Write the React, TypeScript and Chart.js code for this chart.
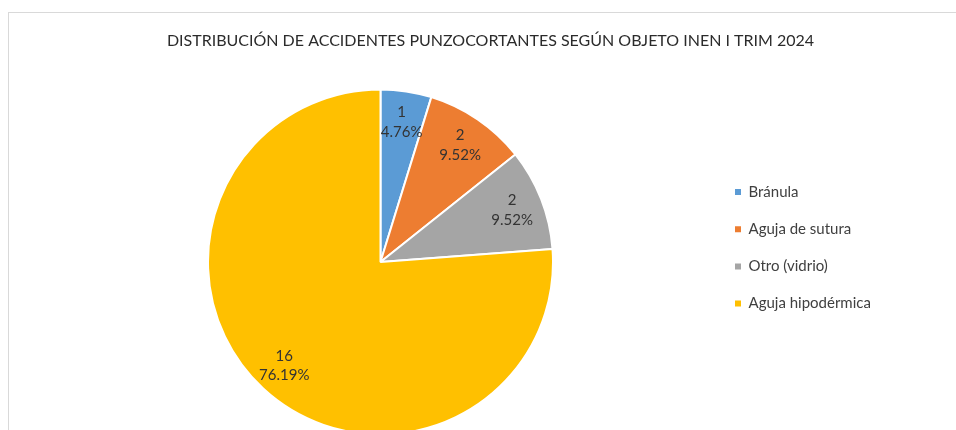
import { useEffect, useRef } from 'react';
import { Chart, registerables } from 'chart.js';

Chart.register(...registerables);

const TITLE = 'DISTRIBUCIÓN DE ACCIDENTES PUNZOCORTANTES SEGÚN OBJETO INEN I TRIM 2024';
const CATEGORIES = ['Bránula', 'Aguja de sutura', 'Otro (vidrio)', 'Aguja hipodérmica'];
const COUNTS = [1, 2, 2, 16];
const COLORS = ['#5B9BD5', '#ED7D31', '#A5A5A5', '#FFC000'];

const W = 956;
const H = 430;
const FONT = 'Lato';
const LEGEND_SIZE = 15;
const LEGEND_PAD = 22.2;
const LEGEND_BOX = 6;
const LEGEND_BOX_X = 735;
const PIE_CX = 380.5;
const PIE_CY = 262;
const PIE_R = 172.5;
const LEGEND_FIRST_ROW = 192;

const titlePlugin = {
  id: 'fixedTitle',
  afterDraw(chart: any) {
    const ctx = chart.ctx;
    ctx.save();
    ctx.font = `16px ${FONT}`;
    ctx.fillStyle = '#2b2b2b';
    ctx.textAlign = 'center';
    ctx.textBaseline = 'alphabetic';
    ctx.fillText(TITLE, 490.5, 46);
    ctx.restore();
  },
};

const sliceLabelPlugin = {
  id: 'sliceLabels',
  afterDatasetsDraw(chart: any) {
    const ctx = chart.ctx;
    const meta = chart.getDatasetMeta(0);
    const data = chart.data.datasets[0].data as number[];
    const total = data.reduce((a, b) => a + b, 0);
    ctx.save();
    ctx.font = `15px ${FONT}`;
    ctx.fillStyle = '#333333';
    ctx.textAlign = 'center';
    ctx.textBaseline = 'middle';
    meta.data.forEach((arc: any, i: number) => {
      const p = arc.getProps(['x', 'y', 'startAngle', 'endAngle', 'outerRadius'], true);
      const mid = (p.startAngle + p.endAngle) / 2;
      const r = p.outerRadius * 0.82;
      const px = p.x + Math.cos(mid) * r;
      const py = p.y + Math.sin(mid) * r;
      ctx.fillText(String(data[i]), px, py - 9.75);
      ctx.fillText(((data[i] / total) * 100).toFixed(2) + '%', px, py + 9.75);
    });
    ctx.restore();
  },
};

export default function App() {
  const ref = useRef<HTMLCanvasElement>(null);

  useEffect(() => {
    if (!ref.current) return;
    const m = document.createElement('canvas').getContext('2d') as CanvasRenderingContext2D;
    m.font = `${LEGEND_SIZE}px ${FONT}`;
    const maxText = Math.max(...CATEGORIES.map((t) => m.measureText(t).width));
    const legendW = LEGEND_PAD + (LEGEND_BOX + LEGEND_SIZE / 2 + maxText) + 10;
    const legendLeft = LEGEND_BOX_X - LEGEND_PAD;
    const padLeft = 2 * PIE_CX - legendLeft;
    const padRight = W - legendLeft - legendW;
    const areaTop = LEGEND_FIRST_ROW - LEGEND_SIZE / 2 - LEGEND_PAD;
    const areaBottom = 2 * PIE_CY - areaTop;

    const baseGen = (Chart as any).overrides.doughnut.plugins.legend.labels.generateLabels;

    const chart = new Chart(ref.current, {
      type: 'pie',
      data: {
        labels: CATEGORIES,
        datasets: [
          {
            data: COUNTS,
            backgroundColor: COLORS,
            borderColor: '#ffffff',
            borderWidth: 2,
            radius: PIE_R,
            clip: false,
          } as any,
        ],
      },
      options: {
        responsive: false,
        animation: false,
        layout: {
          padding: { left: padLeft, right: padRight, top: areaTop, bottom: H - areaBottom },
        },
        plugins: {
          title: { display: false },
          tooltip: { enabled: false },
          legend: {
            display: true,
            position: 'right',
            align: 'start',
            labels: {
              font: { family: FONT, size: LEGEND_SIZE },
              color: '#404040',
              boxWidth: LEGEND_BOX,
              boxHeight: LEGEND_BOX,
              padding: LEGEND_PAD,
              generateLabels: (c: any) => baseGen(c).map((l: any) => ({ ...l, lineWidth: 0 })),
            },
          },
        },
      },
      plugins: [titlePlugin, sliceLabelPlugin],
    });
    return () => chart.destroy();
  }, []);

  return (
    <div
      style={{
        position: 'fixed',
        left: 0,
        top: 0,
        width: W,
        height: H,
        overflow: 'hidden',
        background: '#ffffff',
      }}
    >
      <div
        style={{
          position: 'absolute',
          left: 8,
          top: 12,
          width: 1200,
          height: 1200,
          borderLeft: '1px solid #d9d9d9',
          borderTop: '1px solid #d9d9d9',
        }}
      />
      <canvas
        ref={ref}
        width={W}
        height={H}
        style={{ position: 'absolute', left: 0, top: 0, width: W, height: H }}
      />
    </div>
  );
}
